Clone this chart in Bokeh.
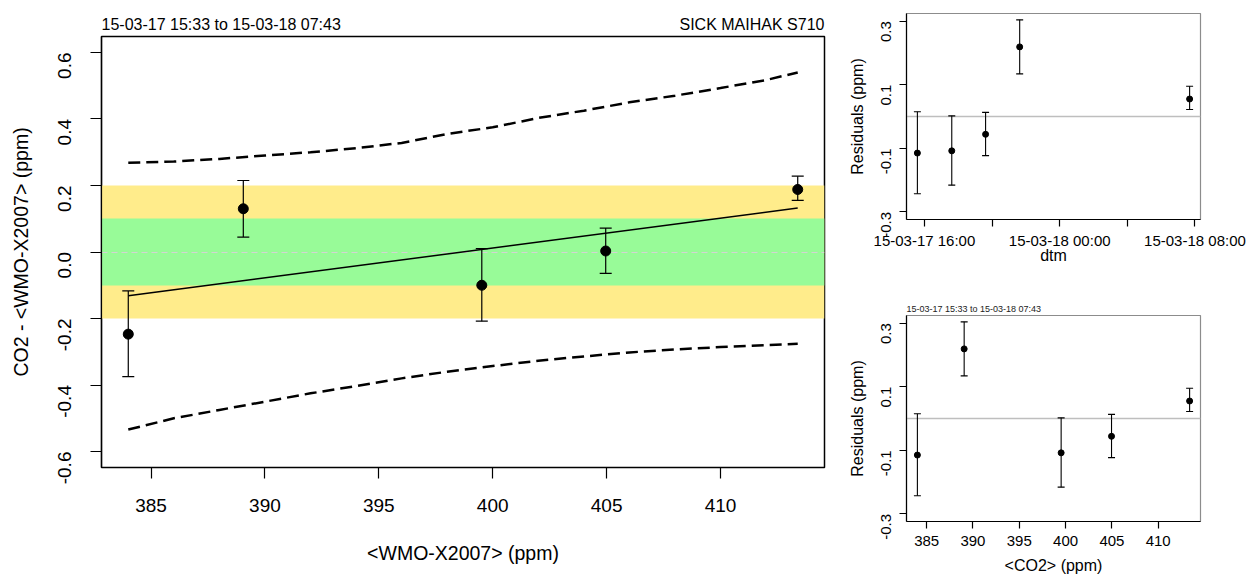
import math
from datetime import datetime
from bokeh.plotting import figure
from bokeh.layouts import row, column
from bokeh.models import FixedTicker, Range1d, Title, PrintfTickFormatter, LinearAxis
from bokeh.embed import file_html
from bokeh.resources import INLINE

FONT = "Liberation Sans"

# ---------------- data ----------------
meas_time = ["2015-03-17 15:35", "2015-03-17 17:37", "2015-03-17 19:37",
             "2015-03-17 21:38", "2015-03-18 07:41"]
ref_co2 = [384.00, 399.52, 404.96, 389.05, 413.39]          # <WMO-X2007> (ppm)
diff = [-0.247, -0.100, 0.003, 0.130, 0.188]                 # CO2 - <WMO-X2007>
err_plus = [0.130, 0.110, 0.069, 0.085, 0.040]
err_minus = [0.128, 0.108, 0.067, 0.085, 0.033]
residual = [-0.115, -0.108, -0.056, 0.219, 0.055]

fit_intercept = -3.580
fit_slope = 0.00898

band_x = [384.0, 386, 388, 390, 392, 394, 396, 398, 400, 402, 404, 406, 408, 410, 412, 413.39]
band_upper = [0.268, 0.272, 0.280, 0.290, 0.300, 0.312, 0.328, 0.355, 0.375, 0.403,
              0.425, 0.450, 0.470, 0.493, 0.517, 0.540]
band_lower = [-0.534, -0.500, -0.475, -0.450, -0.425, -0.403, -0.380, -0.360, -0.343,
              -0.327, -0.314, -0.302, -0.293, -0.286, -0.280, -0.276]

tol_inner = 0.1
tol_outer = 0.2

main_x_ticks = [385, 390, 395, 400, 405, 410]
main_y_ticks = [-0.6, -0.4, -0.2, 0.0, 0.2, 0.4, 0.6]
res_x_ticks = [385, 390, 395, 400, 405, 410]
res_y_ticks = [-0.3, -0.1, 0.1, 0.3]
time_ticks = ["2015-03-17 16:00", "2015-03-17 20:00", "2015-03-18 00:00",
              "2015-03-18 04:00", "2015-03-18 08:00"]
time_tick_labels = ["15-03-17 16:00", "", "15-03-18 00:00", "", "15-03-18 08:00"]

title_left = "15-03-17 15:33 to 15-03-18 07:43"
title_right = "SICK MAIHAK S710"

# ---------------- helpers ----------------
EPOCH = datetime(1970, 1, 1)


def to_dt(s):
    return datetime.strptime(s, "%Y-%m-%d %H:%M")


def to_ms(s):
    return (to_dt(s) - EPOCH).total_seconds() * 1000.0


def expand(lo, hi, f=0.04):
    d = (hi - lo) * f
    return lo - d, hi + d


def style(p, tick_px, label_px, tick_out, xlab_standoff, ylab_standoff, ax_standoff_x, ax_standoff_y,
          outline="black", outline_w=1.5):
    p.xgrid.visible = False
    p.ygrid.visible = False
    p.outline_line_color = outline
    p.outline_line_width = outline_w
    p.background_fill_color = "white"
    p.border_fill_color = "white"
    for ax in (p.xaxis[0], p.yaxis[0]):
        ax.axis_line_color = "black"
        ax.axis_line_width = 1.2
        ax.major_tick_line_color = "black"
        ax.major_tick_line_width = 1.2
        ax.major_tick_out = tick_out
        ax.major_tick_in = 0
        ax.minor_tick_line_color = None
        ax.major_label_text_font = FONT
        ax.major_label_text_font_size = f"{tick_px}px"
        ax.major_label_text_color = "black"
        ax.axis_label_text_font = FONT
        ax.axis_label_text_font_style = "normal"
        ax.axis_label_text_font_size = f"{label_px}px"
        ax.axis_label_text_color = "black"
    p.xaxis[0].major_label_standoff = xlab_standoff
    p.yaxis[0].major_label_standoff = ylab_standoff
    p.xaxis[0].axis_label_standoff = ax_standoff_x
    p.yaxis[0].axis_label_standoff = ax_standoff_y
    p.yaxis[0].major_label_orientation = math.pi / 2


# ---------------- main plot ----------------
x0, x1 = expand(min(ref_co2), max(ref_co2))
p = figure(width=840, height=578, x_range=Range1d(x0, x1), y_range=Range1d(-0.648, 0.648),
           output_backend="svg", toolbar_location=None,
           min_border_left=101, min_border_right=16, min_border_top=36, min_border_bottom=111)
style(p, 19, 19.5, 11, 20, 26, 27, 17)
p.xaxis.ticker = FixedTicker(ticks=main_x_ticks)
p.yaxis.ticker = FixedTicker(ticks=main_y_ticks)
p.yaxis.formatter = PrintfTickFormatter(format="%.1f")
p.xaxis.axis_label = "<WMO-X2007> (ppm)"
p.yaxis.axis_label = "CO2 - <WMO-X2007> (ppm)"

p.hstrip(y0=[-tol_outer], y1=[tol_outer], fill_color="#FFEC8B", line_color=None)
p.hstrip(y0=[-tol_inner], y1=[tol_inner], fill_color="#98FB98", line_color=None)
p.hspan(y=[0.0], line_color="#d3d3d3", line_width=1.2, line_dash="6 4")

fit_x = [min(ref_co2), max(ref_co2)]
fit_y = [fit_intercept + fit_slope * v for v in fit_x]
p.line(fit_x, fit_y, line_color="black", line_width=1.5)

p.line(band_x, band_upper, line_color="black", line_width=2.5, line_dash="12 6")
p.line(band_x, band_lower, line_color="black", line_width=2.5, line_dash="12 6")

up = [d + e for d, e in zip(diff, err_plus)]
lo = [d - e for d, e in zip(diff, err_minus)]
p.segment(x0=ref_co2, y0=lo, x1=ref_co2, y1=up, line_color="black", line_width=1.2)
p.scatter(ref_co2, up, marker="dash", size=12, line_color="black", line_width=1.2)
p.scatter(ref_co2, lo, marker="dash", size=12, line_color="black", line_width=1.2)
p.scatter(ref_co2, diff, marker="circle", size=10, fill_color="black", line_color="black")

# header texts (left and right of the same line) as labels of a bare axis above the frame
p.extra_x_ranges = {"hdr": Range1d(0, 1)}
hdr_pos = [0.1655, 0.8997]
hdr = LinearAxis(x_range_name="hdr", ticker=FixedTicker(ticks=hdr_pos),
                 major_label_overrides={hdr_pos[0]: title_left, hdr_pos[1]: title_right})
hdr.axis_line_color = None
hdr.major_tick_line_color = None
hdr.minor_tick_line_color = None
hdr.major_tick_out = 0
hdr.major_tick_in = 0
hdr.major_label_standoff = 4
hdr.major_label_text_font = FONT
hdr.major_label_text_font_size = "16px"
hdr.major_label_text_color = "black"
p.add_layout(hdr, "above")

# ---------------- residuals vs time ----------------
tms = [to_ms(s) for s in meas_time]
t0, t1 = expand(min(tms), max(tms))
r1 = figure(width=418, height=289, x_axis_type="datetime",
            x_range=Range1d(t0, t1), y_range=Range1d(-0.324, 0.324),
            output_backend="svg", toolbar_location=None,
            min_border_left=66, min_border_right=58, min_border_top=13, min_border_bottom=70)
style(r1, 15, 16, 7, 5, 13, -5, 8, outline="#8c8c8c", outline_w=1.2)
r1.xaxis.ticker = FixedTicker(ticks=[to_ms(s) for s in time_ticks])
r1.xaxis.major_label_overrides = {to_ms(s): lab for s, lab in zip(time_ticks, time_tick_labels)}
r1.yaxis.ticker = FixedTicker(ticks=res_y_ticks)
r1.yaxis.formatter = PrintfTickFormatter(format="%.1f")
r1.xaxis.axis_label = "dtm"
r1.yaxis.axis_label = "Residuals (ppm)"
r1.hspan(y=[0.0], line_color="#bebebe", line_width=1.5)

rup = [r + e for r, e in zip(residual, err_plus)]
rlo = [r - e for r, e in zip(residual, err_minus)]
r1.segment(x0=tms, y0=rlo, x1=tms, y1=rup, line_color="black", line_width=1.1)
r1.scatter(tms, rup, marker="dash", size=7, line_color="black", line_width=1.1)
r1.scatter(tms, rlo, marker="dash", size=7, line_color="black", line_width=1.1)
r1.scatter(tms, residual, marker="circle", size=6, fill_color="black", line_color="black")

# ---------------- residuals vs CO2 ----------------
r2 = figure(width=418, height=289, x_range=Range1d(x0, x1), y_range=Range1d(-0.324, 0.324),
            output_backend="svg", toolbar_location=None,
            min_border_left=66, min_border_right=58, min_border_top=26, min_border_bottom=57)
style(r2, 15, 16, 7, 7, 13, 8, 8, outline="#8c8c8c", outline_w=1.2)
r2.xaxis.ticker = FixedTicker(ticks=res_x_ticks)
r2.yaxis.ticker = FixedTicker(ticks=res_y_ticks)
r2.yaxis.formatter = PrintfTickFormatter(format="%.1f")
r2.xaxis.axis_label = "<CO2> (ppm)"
r2.yaxis.axis_label = "Residuals (ppm)"
r2.title = Title(text=title_left, align="left", text_font=FONT, text_font_size="9px",
                 text_font_style="normal", text_color="#222222", standoff=3)
r2.hspan(y=[0.0], line_color="#bebebe", line_width=1.5)
r2.segment(x0=ref_co2, y0=rlo, x1=ref_co2, y1=rup, line_color="black", line_width=1.1)
r2.scatter(ref_co2, rup, marker="dash", size=7, line_color="black", line_width=1.1)
r2.scatter(ref_co2, rlo, marker="dash", size=7, line_color="black", line_width=1.1)
r2.scatter(ref_co2, residual, marker="circle", size=6, fill_color="black", line_color="black")

layout = row(p, column(r1, r2))
open("out.html", "w").write(file_html(layout, INLINE))
